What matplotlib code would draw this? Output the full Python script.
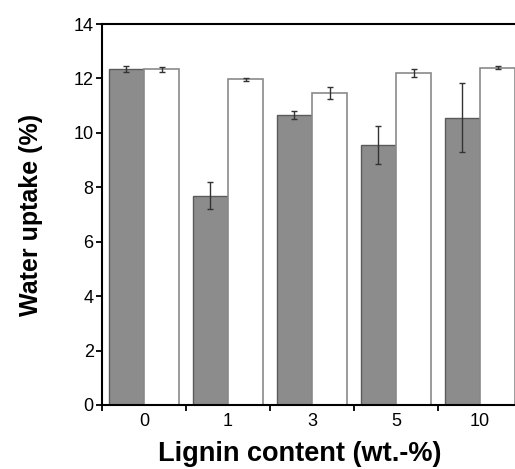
import matplotlib.pyplot as plt
import numpy as np

plt.rcParams['font.family'] = ['Liberation Sans', 'DejaVu Sans']

# 数据
lignin = ['0', '1', '3', '5', '10']
dark_vals = [12.35, 7.69, 10.65, 9.55, 10.56]
dark_err = [0.10, 0.50, 0.15, 0.69, 1.26]
white_vals = [12.33, 11.97, 11.45, 12.19, 12.39]
white_err = [0.10, 0.05, 0.22, 0.14, 0.05]

fig = plt.figure(figsize=(5.15, 4.69), dpi=100)
ax = fig.add_axes([0.198, 0.1365, 0.8156, 0.8123])

x = np.arange(len(lignin))
w = 0.42
ax.bar(x - w / 2, dark_vals, width=w, color='#8c8c8c', edgecolor='#5a5a5a', linewidth=1,
       yerr=dark_err, error_kw=dict(ecolor='#333333', elinewidth=1, capsize=2.5, capthick=1))
ax.bar(x + w / 2, white_vals, width=w, color='white', edgecolor='#8a8a8a', linewidth=1.2,
       yerr=white_err, error_kw=dict(ecolor='#333333', elinewidth=1, capsize=2.5, capthick=1))

ax.set_xlim(-0.5, 4.5)
ax.set_ylim(0, 14)
ax.set_yticks(np.arange(0, 15, 2))
ax.set_xticks(x)
ax.set_xticklabels(lignin)
ax.set_xticks(np.arange(-0.5, 5, 1), minor=True)
ax.tick_params(axis='x', which='major', length=0, labelsize=13, pad=6)
ax.tick_params(axis='x', which='minor', length=4.5, width=1.3, direction='out')
ax.tick_params(axis='y', length=4.5, width=1.3, direction='out', labelsize=13, pad=1.5)

for s in ['left', 'bottom', 'top', 'right']:
    ax.spines[s].set_linewidth(1.5)

ax.set_xlabel('Lignin content (wt.-%)', fontsize=19.5, fontweight='bold')
ax.xaxis.set_label_coords(0.471, -0.095)
ax.set_ylabel('Water uptake (%)', fontsize=18, fontweight='bold', labelpad=22)

fig.savefig('out.png', dpi=100)
